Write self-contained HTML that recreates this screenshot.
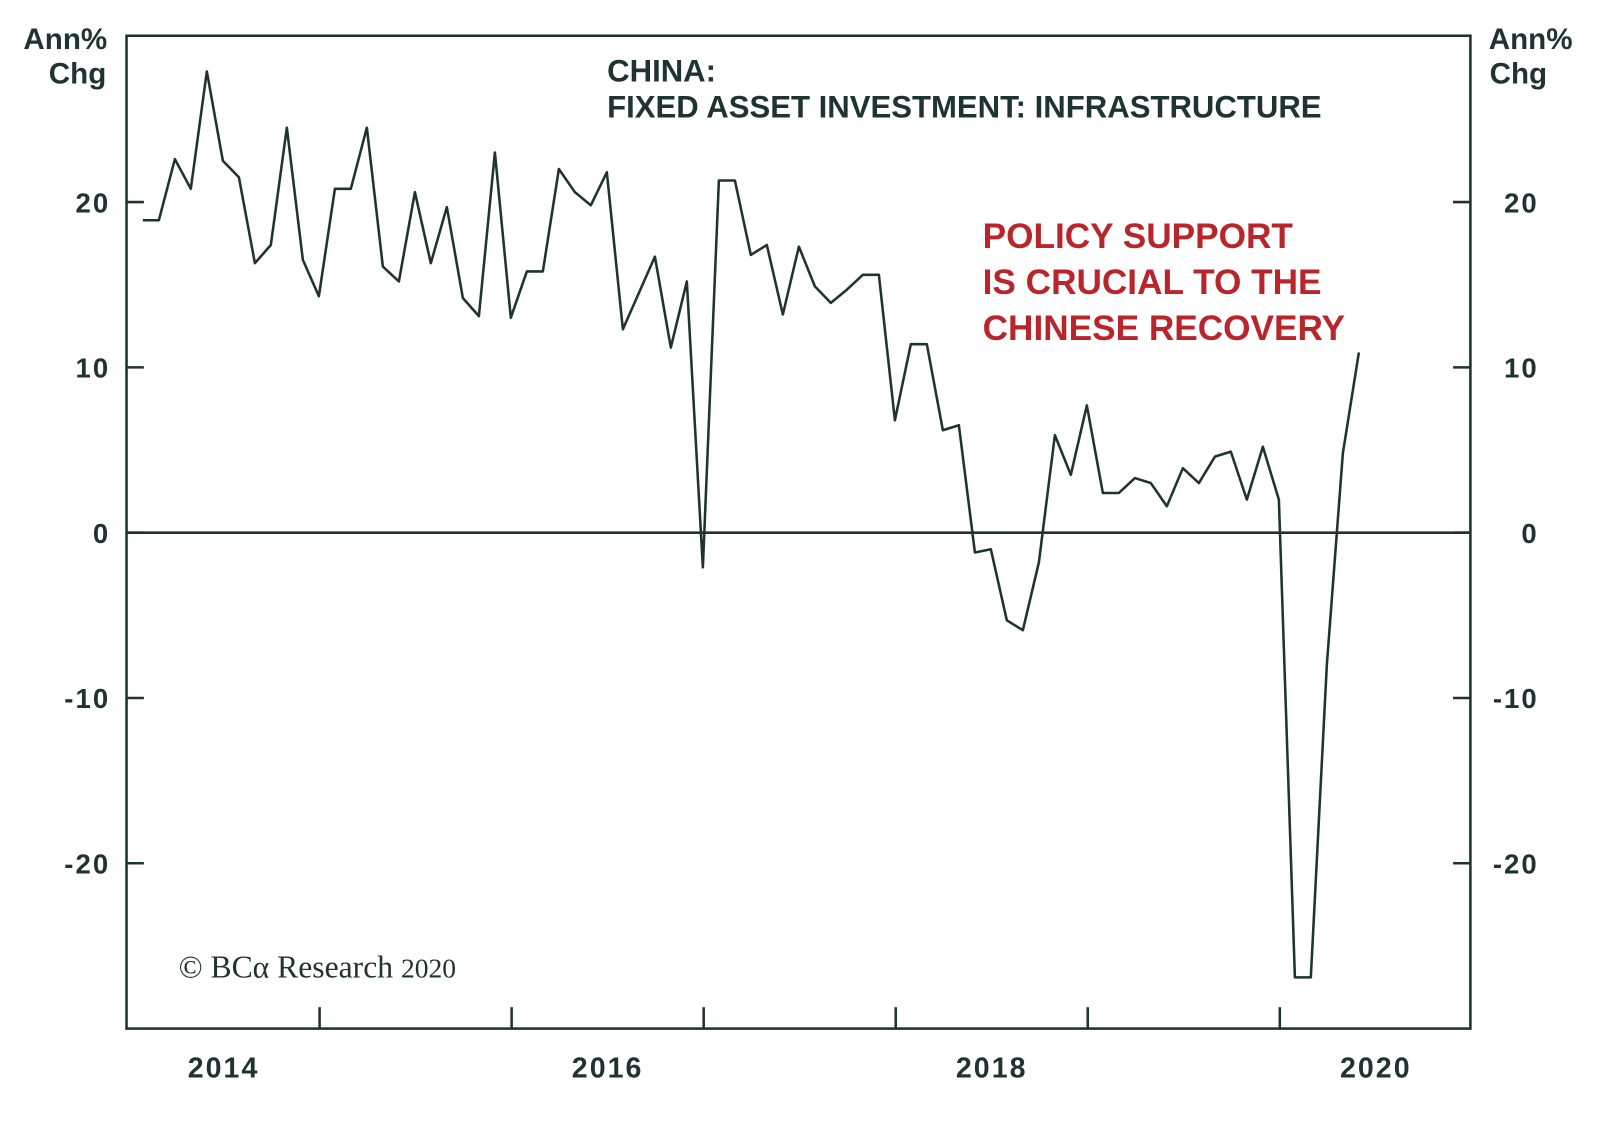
<!DOCTYPE html>
<html><head><meta charset="utf-8"><style>
body{margin:0;background:#fff;}
svg text{font-family:"Liberation Sans",sans-serif;}
</style></head><body>
<svg id="chart" width="1600" height="1128" viewBox="0 0 1568 1105.4">
<rect x="124" y="35" width="1317" height="973" fill="none" stroke="#1e3432" stroke-width="2.5"/>
<g id="ticks"></g>
<text x="64" y="48" font-size="29" font-weight="bold" fill="#1e3432" text-anchor="middle"><tspan x="64">Ann%</tspan><tspan x="76" dy="34">Chg</tspan></text>
<text x="1500" y="48" font-size="29" font-weight="bold" fill="#1e3432" text-anchor="middle"><tspan x="1500">Ann%</tspan><tspan x="1488" dy="34">Chg</tspan></text>
<text x="595" y="80" font-size="30.5" font-weight="bold" fill="#1e3432"><tspan x="595">CHINA:</tspan><tspan x="595" dy="35">FIXED ASSET INVESTMENT: INFRASTRUCTURE</tspan></text>
<text x="963" y="243" font-size="34.5" font-weight="bold" fill="#b8262b"><tspan x="963">POLICY SUPPORT</tspan><tspan x="963" dy="45">IS CRUCIAL TO THE</tspan><tspan x="963" dy="45">CHINESE RECOVERY</tspan></text>
<text x="175" y="958" font-size="31" fill="#1e3432" style="font-family:'Liberation Serif',serif">© BCα Research <tspan font-size="27">2020</tspan></text>
<polyline id="line" fill="none" stroke="#1e3432" stroke-width="2.5" stroke-linejoin="round"/>
</svg>
<script>
const values=[18.9,18.9,22.6,20.8,27.9,22.5,21.5,16.3,17.4,24.5,16.5,14.3,
20.8,20.8,24.5,16.1,15.2,20.6,16.3,19.7,14.2,13.1,23.0,13.0,
15.8,15.8,22.0,20.6,19.8,21.8,12.3,14.5,16.7,11.2,15.2,-2.1,
21.3,21.3,16.8,17.4,13.2,17.3,14.9,13.9,14.7,15.6,15.6,6.8,
11.4,11.4,6.2,6.5,-1.2,-1.0,-5.3,-5.9,-1.8,5.9,3.5,7.7,
2.4,2.4,3.3,3.0,1.6,3.9,3.0,4.6,4.9,2.0,5.2,2.0,
-26.9,-26.9,-8.0,4.8,10.9];
const yTicks=[20,10,0,-10,-20];
const yearLabels=["2014","2016","2018","2020"];
const yearLabelYears=[2014,2016,2018,2020];
const yearTicks=[2015,2016,2017,2018,2019,2020];
const NS="http://www.w3.org/2000/svg";
function yS(v){return 522-v*16.2;}
function xYear(yr){return 125+(yr-2014)*188.2;}
function xIdx(i){return 140+i*15.68;}
const g=document.getElementById('ticks');
function mk(t,a){const e=document.createElementNS(NS,t);for(const k in a)e.setAttribute(k,a[k]);g.appendChild(e);return e;}
yTicks.forEach(v=>{
 const y=yS(v);
 let l=mk('line',{x1:124,x2:141,y1:y,y2:y,stroke:'#1e3432','stroke-width':2.5});
 
 
 l=mk('line',{x1:1424,x2:1441,y1:y,y2:y,stroke:'#1e3432','stroke-width':2.5});
 
 
 let t=mk('text',{x:108,y:y+10,'font-size':27,'font-weight':'bold',fill:'#1e3432','text-anchor':'end','letter-spacing':2});
 t.textContent=v;
 
 
 t=mk('text',{x:1508,y:y+10,'font-size':27,'font-weight':'bold',fill:'#1e3432','text-anchor':'end','letter-spacing':2});
 t.textContent=v;
 
 
});
const z=mk('line',{x1:124,x2:1441,y1:yS(0),y2:yS(0),stroke:'#1e3432','stroke-width':2.5});


yearTicks.forEach(yr=>{
 const x=xYear(yr);
 const l=mk('line',{x1:x,x2:x,y1:987,y2:1008,stroke:'#1e3432','stroke-width':2.5});
 
 
});
yearLabels.forEach((s,i)=>{
 const t=mk('text',{x:xYear(yearLabelYears[i]+0.5),y:1056,'font-size':28,'font-weight':'bold',fill:'#1e3432','text-anchor':'middle','letter-spacing':2});
 t.textContent=s;
 
 
});
document.getElementById('line').setAttribute('points',values.map((v,i)=>xIdx(i).toFixed(1)+','+yS(v).toFixed(1)).join(' '));
</script>
</body></html>
